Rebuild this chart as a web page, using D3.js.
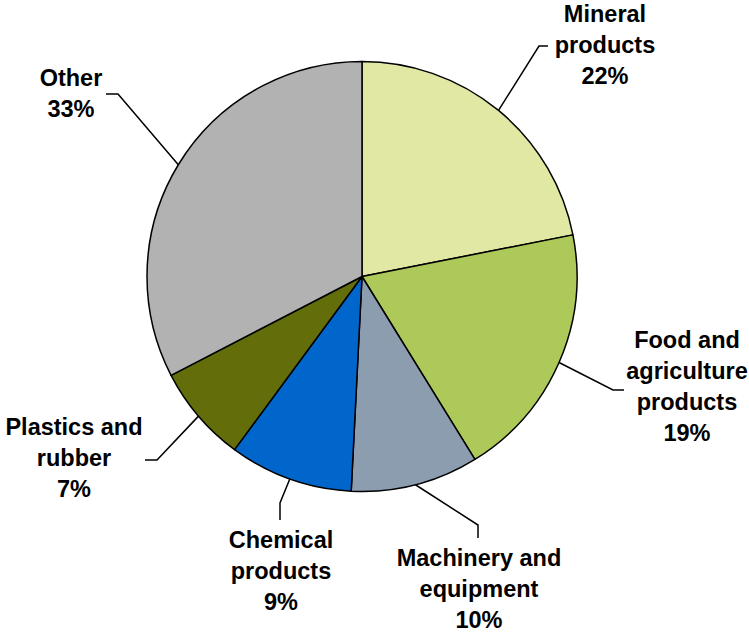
<!DOCTYPE html>
<html>
<head>
<meta charset="utf-8">
<script src="https://cdn.jsdelivr.net/npm/d3@7/dist/d3.min.js"></script>
<style>
  html, body { margin: 0; padding: 0; background: #ffffff; }
  svg { display: block; }
  text { font-family: "Liberation Sans", Arial, sans-serif; font-weight: bold; fill: #000; }
</style>
</head>
<body>
<div id="chart"></div>
<script>
// Export structure by product group (share of total, %)
const categories = [
  "Mineral\nproducts",
  "Food and\nagriculture\nproducts",
  "Machinery and\nequipment",
  "Chemical\nproducts",
  "Plastics and\nrubber",
  "Other"
];
const shares = [21.9, 19.3, 9.6, 9.3, 7.3, 32.6];
const colors = ["#E0E8A3", "#ADC95A", "#8C9DB0", "#0066CC", "#636E0A", "#B2B2B2"];

// Label placement: text centre, first baseline, and leader elbow / end points
const labelLayout = [
  { x: 605, y: 22,  elbow: [539, 46],  end: [548, 46] },
  { x: 687, y: 348, elbow: [613, 390], end: [624, 390] },
  { x: 479, y: 566, elbow: [478, 525], end: [478, 538] },
  { x: 281, y: 548, elbow: [280, 503], end: [280, 520] },
  { x: 74,  y: 435, elbow: [157, 460], end: [145, 460] },
  { x: 71,  y: 86,  elbow: [118, 94],  end: [106, 94] }
];

const width = 749, height = 632;
const cx = 362, cy = 276.5, radius = 215;
const lineHeight = 31;

const svg = d3.select("#chart").append("svg")
  .attr("width", width).attr("height", height);

const data = categories.map((c, i) => ({ name: c, value: shares[i], color: colors[i], layout: labelLayout[i] }));

const pie = d3.pie().value(d => d.value).sort(null).startAngle(0).endAngle(2 * Math.PI);
const arcs = pie(data);
const arc = d3.arc().innerRadius(0).outerRadius(radius);

const g = svg.append("g").attr("transform", `translate(${cx},${cy})`);

g.selectAll("path.slice")
  .data(arcs)
  .join("path")
  .attr("class", "slice")
  .attr("d", arc)
  .attr("fill", d => d.data.color)
  .attr("stroke", "#000")
  .attr("stroke-width", 1.5)
  .attr("stroke-linejoin", "round");

// Leader lines from the slice edge to each label
const fmt = v => Math.round(v) + "%";
svg.selectAll("polyline.leader")
  .data(arcs)
  .join("polyline")
  .attr("class", "leader")
  .attr("points", d => {
    const mid = (d.startAngle + d.endAngle) / 2;
    const sx = cx + radius * Math.sin(mid);
    const sy = cy - radius * Math.cos(mid);
    const L = d.data.layout;
    return [[sx, sy], L.elbow, L.end].map(p => p.join(",")).join(" ");
  })
  .attr("fill", "none")
  .attr("stroke", "#000")
  .attr("stroke-width", 1.5);

// Category labels with percentage on the last line
const labels = svg.selectAll("text.label")
  .data(arcs)
  .join("text")
  .attr("class", "label")
  .attr("text-anchor", "middle")
  .attr("font-size", 23.5);

labels.each(function(d) {
  const lines = d.data.name.split("\n").concat([fmt(d.data.value)]);
  const L = d.data.layout;
  d3.select(this).selectAll("tspan")
    .data(lines)
    .join("tspan")
    .attr("x", L.x)
    .attr("y", (t, i) => L.y + i * lineHeight)
    .text(t => t);
});
</script>
</body>
</html>
